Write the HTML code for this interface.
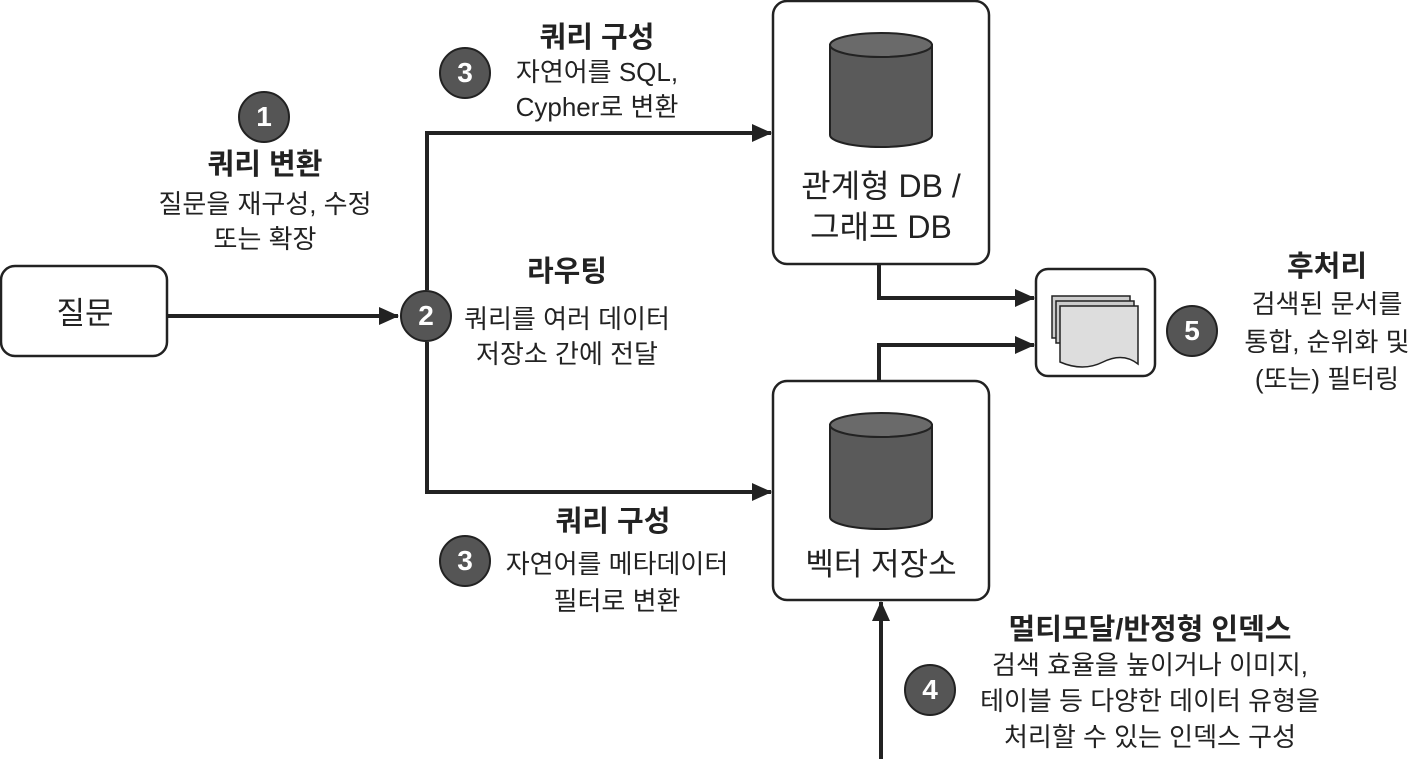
<!DOCTYPE html>
<html><head><meta charset="utf-8"><style>
body{margin:0;width:1410px;height:759px;background:#fff;position:relative;overflow:hidden;font-family:"Liberation Sans","Noto Sans CJK KR",sans-serif;color:#222}
.t{position:absolute;text-align:center;font-size:26px;line-height:35px;white-space:nowrap;transform:translateX(-50%)}
.b{font-weight:bold;font-size:29px;line-height:34px}
.c{position:absolute;width:52px;height:52px;border-radius:50%;background:#555;border:2px solid #222;color:#fff;font-weight:bold;font-size:28px;line-height:48px;text-align:center;box-sizing:border-box}
</style></head><body>
<svg width="1410" height="759" style="position:absolute;left:0;top:0">
<defs>
<marker id="h" markerWidth="20" markerHeight="18" refX="19" refY="9" orient="auto" markerUnits="userSpaceOnUse"><path d="M0,0 L20,9 L0,18z" fill="#222"/></marker></defs>
<g fill="#fff" stroke="#222" stroke-width="2.5">
<rect x="1" y="266" width="166" height="90" rx="14"/>
<rect x="773" y="1" width="216" height="263" rx="14"/>
<rect x="773" y="381" width="216" height="219" rx="14"/>
<rect x="1036" y="269" width="119" height="107" rx="12"/>
</g>
<g stroke="#222" stroke-width="4" fill="none">
<line x1="168" y1="316" x2="398" y2="316" marker-end="url(#h)"/>
<polyline points="427,290 427,133 771,133" marker-end="url(#h)"/>
<polyline points="427,342 427,492 771,492" marker-end="url(#h)"/>
<polyline points="879,265 879,298 1034,298" marker-end="url(#h)"/>
<polyline points="879,380 879,345 1034,345" marker-end="url(#h)"/>
<line x1="881" y1="759" x2="881" y2="602" marker-end="url(#h)"/>
</g>
<g stroke="#222" stroke-width="2" fill="#5a5a5a">
<path d="M830,45 v90 a51,12 0 0 0 102,0 v-90z"/><ellipse cx="881" cy="45" rx="51" ry="12" fill="#6a6a6a"/>
<path d="M830,425 v92 a51,12 0 0 0 102,0 v-92z"/><ellipse cx="881" cy="425" rx="51" ry="12" fill="#6a6a6a"/>
</g>
<g stroke="#222" stroke-width="1.5" fill="#ccc">
<rect x="1052" y="296" width="78" height="42"/><rect x="1056" y="301" width="78" height="42"/>
<path d="M1060,306 h78 v58 q-15,-12 -35,-2 q-20,10 -43,0z" fill="#ddd"/>
</g>
</svg>
<div class="t" style="left:85px;top:296px;font-size:31px;line-height:36px">질문</div>
<div class="t" style="left:881px;top:166px;font-size:32px;line-height:41px">관계형 DB /<br>그래프 DB</div>
<div class="t" style="left:881px;top:547px;font-size:31px;line-height:36px">벡터 저장소</div>
<div class="c" style="left:238px;top:91px">1</div>
<div class="t b" style="left:265px;top:148px">쿼리 변환</div>
<div class="t" style="left:265px;top:187px">질문을 재구성, 수정<br>또는 확장</div>
<div class="c" style="left:400px;top:290px">2</div>
<div class="t b" style="left:567px;top:255px">라우팅</div>
<div class="t" style="left:567px;top:302px">쿼리를 여러 데이터<br>저장소 간에 전달</div>
<div class="c" style="left:439px;top:47px">3</div>
<div class="t b" style="left:597px;top:21px">쿼리 구성</div>
<div class="t" style="left:597px;top:55px">자연어를 SQL,<br>Cypher로 변환</div>
<div class="c" style="left:439px;top:535px">3</div>
<div class="t b" style="left:613px;top:505px">쿼리 구성</div>
<div class="t" style="left:617px;top:546px;line-height:37px">자연어를 메타데이터<br>필터로 변환</div>
<div class="c" style="left:1166px;top:305px">5</div>
<div class="t b" style="left:1327px;top:250px">후처리</div>
<div class="t" style="left:1327px;top:286px;line-height:37.5px">검색된 문서를<br>통합, 순위화 및<br>(또는) 필터링</div>
<div class="c" style="left:904px;top:664px">4</div>
<div class="t b" style="left:1150px;top:613px">멀티모달/반정형 인덱스</div>
<div class="t" style="left:1150px;top:647px;line-height:36px">검색 효율을 높이거나 이미지,<br>테이블 등 다양한 데이터 유형을<br>처리할 수 있는 인덱스 구성</div>
</body></html>
